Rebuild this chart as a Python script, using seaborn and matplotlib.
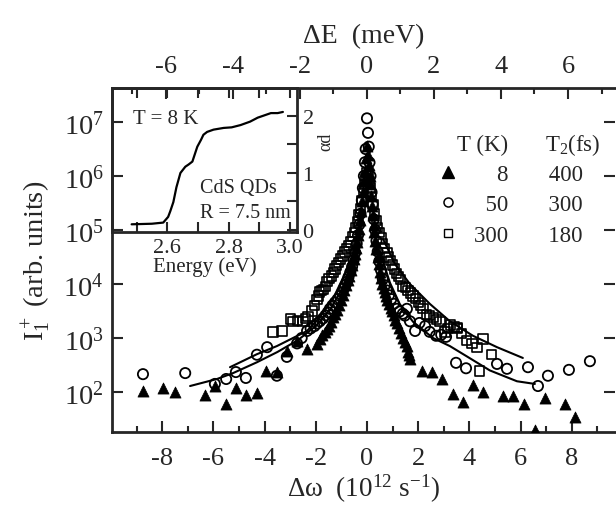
import matplotlib
matplotlib.use("Agg")
import matplotlib.pyplot as plt
import seaborn as sns
import pandas as pd
from matplotlib.ticker import MultipleLocator, NullLocator, FixedLocator
from matplotlib.lines import Line2D

# ---- data ----
# 8 K, filled triangles (dw in 1e12 s^-1, intensity arb. units)
t8_dw = [-8.75, -7.97, -7.50, -6.33, -5.94, -5.51, -5.12, -4.73, -4.30, -3.95, -3.52, -3.13,
         -2.73, -2.34, -1.95, -1.85, -1.75, -1.65, -1.56, -1.48, -1.40, -1.33, -1.25, -1.18,
         -1.10, -1.02, -0.95, -0.88, -0.82, -0.76, -0.70, -0.64, -0.58, -0.52, -0.47, -0.42,
         -0.38, -0.34, -0.30, -0.26, -0.22, -0.18, -0.15, -0.11, -0.08, -0.04, 0.00,
         0.04, 0.07, 0.10, 0.13, 0.16, 0.20, 0.23, 0.26, 0.29, 0.33, 0.37, 0.42, 0.46,
         0.51, 0.55, 0.60, 0.65, 0.70, 0.75, 0.80, 0.86, 0.92, 0.98, 1.04, 1.10, 1.17,
         1.25, 1.32, 1.40, 1.48, 1.55, 1.60, 1.64, 1.68, 2.15, 2.54, 2.93,
         3.36, 3.75, 4.14, 4.53, 5.31, 5.70, 6.13, 6.56, 6.95, 7.73, 8.13]
t8_I = [105, 117, 100, 87, 129, 60, 117, 87, 95, 245, 234, 575,
        870, 630, 776, 950, 1120, 1300, 1480, 1700, 2000, 2400, 2820, 3300,
        4170, 5000, 6310, 7600, 9550, 1.2e4, 1.41e4, 1.8e4, 2.24e4, 2.9e4, 3.55e4, 4.6e4,
        6.0e4, 8.0e4, 1.05e5, 1.5e5, 2.24e5, 3.4e5, 5.0e5, 8.0e5, 1.26e6, 2.2e6, 3.55e6,
        2.4e6, 1.58e6, 1.0e6, 7.1e5, 4.3e5, 2.8e5, 1.9e5, 1.26e5, 9.0e4, 6.3e4, 4.5e4, 3.16e4, 2.3e4,
        1.66e4, 1.3e4, 1.0e4, 8500, 7080, 6000, 5010, 4200, 3550, 3100, 2630, 2200, 1900,
        1550, 1260, 1000, 830, 700, 560, 480, 410, 245, 234, 174,
        91, 65, 135, 100, 85, 85, 60, 20, 78, 60, 35]

# 50 K, open circles
t50_dw = [-8.75, -7.10, -5.94, -5.50, -5.12, -4.73, -4.30, -3.90, -3.52, -3.13, -2.73, -2.55,
          -2.34, -2.20, -2.05, -1.95, -1.84, -1.72, -1.62, -1.53, -1.45, -1.35, -1.25, -1.15,
          -1.05, -0.97, -0.90, -0.84, -0.78, -0.72, -0.65, -0.58, -0.52, -0.46, -0.40, -0.35,
          -0.30, -0.25, -0.20, -0.16, -0.12, -0.08, -0.05, 0.00, 0.04, 0.07, 0.10, 0.14, 0.18,
          0.22, 0.27, 0.32, 0.37, 0.42, 0.48, 0.55, 0.62, 0.70, 0.78, 0.86, 0.95, 1.05,
          1.17, 1.28, 1.40, 1.48, 1.56, 1.68, 1.88, 2.05, 2.27, 2.45, 2.70, 2.90, 3.09, 3.48,
          3.87, 5.08, 5.47, 6.29, 6.68, 7.07, 7.89, 8.71]
t50_I = [214, 224, 141, 174, 234, 182, 490, 676, 200, 447, 794, 1000,
         1350, 1500, 1660, 1850, 2040, 2300, 2630, 3000, 3470, 4000, 4570, 5200,
         6030, 7000, 8320, 9500, 1.1e4, 1.35e4, 1.66e4, 2.1e4, 2.8e4, 3.8e4, 5.6e4, 8.0e4,
         1.26e5, 2.0e5, 3.55e5, 6.0e5, 1.0e6, 1.8e6, 3.16e6, 1.17e7, 6.3e6, 3.5e6, 1.78e6, 1.0e6, 5.0e5,
         3.0e5, 1.58e5, 1.0e5, 6.3e4, 4.0e4, 2.63e4, 1.8e4, 1.23e4, 9500, 7590, 6200, 5250, 4300,
         3470, 3100, 2820, 2600, 3470, 2040, 1350, 1900, 1660, 1300, 1100, 1150, 1050, 347,
         275, 331, 269, 288, 129, 200, 257, 372]

# 300 K, open squares
t300_dw = [-3.67, -3.32, -3.00, -2.89, -2.70, -2.50, -2.40, -2.30, -2.15, -2.05, -1.95, -1.90,
           -1.84, -1.77, -1.70, -1.63, -1.56, -1.48, -1.40, -1.32, -1.25, -1.18, -1.10, -1.02,
           -0.95, -0.88, -0.80, -0.72, -0.65, -0.57, -0.50, -0.44, -0.38, -0.32, -0.26, -0.20,
           -0.15, -0.10, -0.06, 0.00, 0.04, 0.08, 0.13, 0.18, 0.24, 0.30, 0.36, 0.42, 0.48,
           0.55, 0.62, 0.70, 0.78, 0.85, 0.92, 1.00, 1.08, 1.15, 1.22, 1.30, 1.40, 1.50, 1.60,
           1.70, 1.80, 1.90, 2.00, 2.10, 2.19, 2.34, 2.45, 2.60, 2.72, 2.85, 3.05, 3.15, 3.25,
           3.40, 3.52, 3.55, 3.70, 3.90, 4.10, 4.30, 4.41, 4.53, 4.88]
t300_I = [1290, 1350, 2240, 2000, 2100, 2040, 2300, 2510, 3160, 4000, 5250, 6000,
          7080, 7500, 7940, 9000, 1.1e4, 1.25e4, 1.41e4, 1.65e4, 1.9e4, 2.2e4, 2.5e4, 2.9e4,
          3.3e4, 3.9e4, 4.5e4, 5.2e4, 6.0e4, 7.5e4, 8.9e4, 1.1e5, 1.41e5, 1.9e5, 2.5e5, 3.5e5,
          5.0e5, 7.0e5, 8.9e5, 1.17e6, 1.0e6, 7.9e5, 6.0e5, 4.2e5, 3.0e5, 2.0e5, 1.5e5, 1.12e5, 9.0e4,
          7.1e4, 5.6e4, 4.5e4, 3.8e4, 3.16e4, 2.7e4, 2.24e4, 1.9e4, 1.58e4, 1.4e4, 1.2e4, 9100, 8500, 7600,
          6800, 6000, 5300, 4570, 4000, 3470, 2750, 2600, 2400, 2200, 2040, 1290, 1500, 1740,
          1600, 1480, 1580, 1200, 890, 800, 676, 245, 955, 490]

# fitted curves (two of them, each drawn as left and right branch)
fit1_dw = [-6.91, -5.86, -5.23, -4.30, -3.50, -2.70, -2.00, -1.40, -0.90, -0.50,
           0.50, 0.90, 1.29, 1.80, 2.58, 3.24, 3.90, 4.80, 5.86, 6.56]
fit1_I = [129, 174, 224, 355, 550, 912, 1660, 3550, 9550, 3.55e4,
          4.0e4, 1.05e4, 4170, 2000, 1000, 708, 457, 251, 158, 141]
fit1_side = ["L"] * 10 + ["R"] * 10

fit2_dw = [-5.35, -4.30, -3.52, -2.34, -1.84, -1.33, -0.86, -0.47,
           0.63, 1.09, 1.68, 2.46, 3.24, 4.14, 5.08, 6.09]
fit2_I = [288, 501, 708, 1350, 2450, 5250, 1.55e4, 4.47e4,
          6.8e4, 2.34e4, 1.0e4, 4270, 2040, 1100, 676, 427]
fit2_side = ["L"] * 8 + ["R"] * 8

# inset: absorption of CdS QDs
abs_E = [2.484, 2.55, 2.587, 2.603, 2.61, 2.62, 2.63, 2.643, 2.659, 2.67, 2.682, 2.698,
         2.71, 2.718, 2.73, 2.751, 2.784, 2.81, 2.839, 2.87, 2.895, 2.938, 2.96, 2.977]
abs_ad = [0.10, 0.11, 0.13, 0.23, 0.33, 0.49, 0.75, 1.00, 1.11, 1.15, 1.20, 1.46,
          1.58, 1.67, 1.72, 1.76, 1.79, 1.80, 1.84, 1.90, 1.97, 2.05, 2.05, 2.07]

legend_T = [8, 50, 300]
legend_T2 = [400, 300, 180]

# ---- style ----
sns.set_style("ticks")
plt.rcParams["font.family"] = ["Liberation Serif", "DejaVu Serif"]
plt.rcParams["mathtext.fontset"] = "stix"
plt.rcParams["mathtext.default"] = "regular"
plt.rcParams["axes.unicode_minus"] = False

W, H = 616, 506
fig = plt.figure(figsize=(W / 100, H / 100), dpi=100)
ax = fig.add_axes([112 / W, (H - 433) / H, (615 - 112) / W, (433 - 89) / H])

df8 = pd.DataFrame({"dw": t8_dw, "I": t8_I})
df50 = pd.DataFrame({"dw": t50_dw, "I": t50_I})
df300 = pd.DataFrame({"dw": t300_dw, "I": t300_I})
fit1 = pd.DataFrame({"dw": fit1_dw, "I": fit1_I, "side": fit1_side})
fit2 = pd.DataFrame({"dw": fit2_dw, "I": fit2_I, "side": fit2_side})

sns.lineplot(data=fit1, x="dw", y="I", units="side", estimator=None, color="black", lw=1.5, ax=ax, zorder=2)
sns.lineplot(data=fit2, x="dw", y="I", units="side", estimator=None, color="black", lw=1.5, ax=ax, zorder=2)
sns.scatterplot(data=df300, x="dw", y="I", marker="s", color="black", facecolor="none",
                edgecolor="black", linewidth=1.2, s=44, ax=ax, zorder=3)
sns.scatterplot(data=df50, x="dw", y="I", marker="o", color="black", facecolor="none",
                edgecolor="black", linewidth=1.3, s=54, ax=ax, zorder=3)
sns.scatterplot(data=df8, x="dw", y="I", marker="^", color="black", edgecolor="black",
                linewidth=0.5, s=64, ax=ax, zorder=4)

ax.set_yscale("log")
ax.set_xlim(-9.96, 9.69)
ax.set_ylim(10 ** 1.259, 10 ** 7.63)
ax.xaxis.set_major_locator(MultipleLocator(2))
ax.xaxis.set_minor_locator(MultipleLocator(1))
ax.yaxis.set_major_locator(FixedLocator([1e2, 1e3, 1e4, 1e5, 1e6, 1e7]))
ax.yaxis.set_minor_locator(NullLocator())
ax.tick_params(which="both", direction="in", right=True, top=False, width=1.5, labelsize=19)
ax.tick_params(axis="y", labelsize=20.5, pad=6)
ax.tick_params(which="major", length=8)
ax.tick_params(which="minor", length=4.5)
ax.tick_params(axis="x", pad=11)
for s in ax.spines.values():
    s.set_linewidth(2.0)
ax.spines["right"].set_visible(False)
ax.set_xlabel("Δω  (10$^{12}$ s$^{-1}$)", fontsize=19.5, labelpad=2)
ax.set_ylabel("I$_1^+$ (arb. units)", fontsize=20.5, labelpad=7)

# top axis in meV
conv = 1.309
top = ax.secondary_xaxis("top", functions=(lambda x: x / conv, lambda e: e * conv))
top.xaxis.set_major_locator(FixedLocator([-6, -4, -2, 0, 2, 4, 6]))
top.xaxis.set_minor_locator(FixedLocator([-7, -5, -3, -1, 1, 3, 5, 7]))
top.tick_params(which="both", direction="in", width=1.5, labelsize=19, pad=8)
top.tick_params(which="major", length=8)
top.tick_params(which="minor", length=4.5)
top.set_xlabel("ΔE  (meV)", fontsize=20, labelpad=9)

# legend table
handles = [
    Line2D([], [], marker="^", ls="", color="black", ms=8),
    Line2D([], [], marker="o", ls="", mfc="none", mec="black", mew=1.1, ms=6.5),
    Line2D([], [], marker="s", ls="", mfc="none", mec="black", mew=1.0, ms=6),
]
labels = [f"{t:\u2007>3}\u2007\u2007\u2007 {t2}" for t, t2 in zip(legend_T, legend_T2)]
ax.legend(handles, labels, loc="upper left", bbox_to_anchor=(0.646, 0.78), frameon=False,
          fontsize=16.5, handlelength=1.0, handletextpad=0.6, labelspacing=0.42,
          borderpad=0, borderaxespad=0)
ax.text(0.686, 0.837, "T (K)", transform=ax.transAxes, fontsize=16.5, ha="left", va="center")
ax.text(0.861, 0.837, "T$_2$(fs)", transform=ax.transAxes, fontsize=16.5, ha="left", va="center")

# inset
axi = fig.add_axes([112 / W, (H - 233) / H, (297 - 112) / W, (233 - 89) / H])
axi.patch.set_alpha(0)
sns.lineplot(x=abs_E, y=abs_ad, color="black", lw=1.6, ax=axi, sort=False)
axi.set_xlim(2.42, 3.023)
axi.set_ylim(-0.035, 2.49)
axi.xaxis.set_major_locator(FixedLocator([2.6, 2.8, 3.0]))
axi.xaxis.set_minor_locator(MultipleLocator(0.1))
axi.yaxis.set_major_locator(MultipleLocator(1))
axi.yaxis.set_minor_locator(MultipleLocator(0.5))
axi.yaxis.tick_right()
axi.yaxis.set_label_position("right")
axi.tick_params(which="both", direction="in", top=True, left=False, right=True, width=1.5, labelsize=16)
axi.tick_params(which="major", length=7, pad=4)
axi.tick_params(which="minor", length=7)
for s in axi.spines.values():
    s.set_linewidth(2.0)
axi.set_xlabel("Energy (eV)", fontsize=15, labelpad=0)
axi.set_ylabel("αd", fontsize=13, rotation=90, labelpad=2)
axi.yaxis.set_label_coords(1.11, 0.63)
axi.text(0.114, 0.785, "T = 8 K", transform=axi.transAxes, fontsize=15, va="center")
axi.text(0.476, 0.3125, "CdS QDs", transform=axi.transAxes, fontsize=14.5, va="center")
axi.text(0.476, 0.132, "R = 7.5 nm", transform=axi.transAxes, fontsize=14.5, va="center")

fig.savefig("out.png", dpi=100)
